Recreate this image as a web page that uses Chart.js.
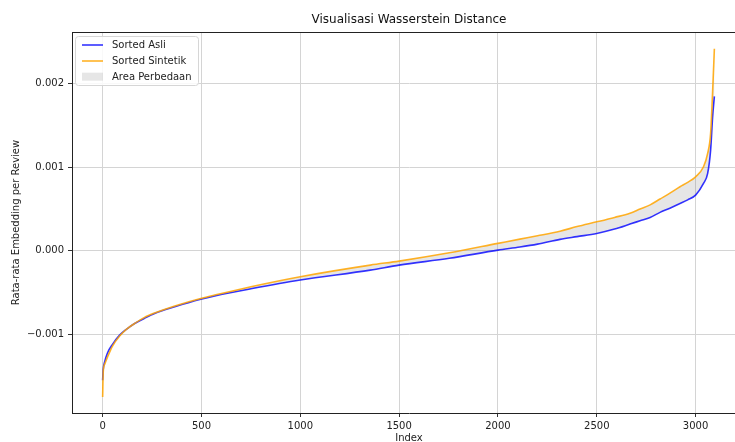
<!DOCTYPE html>
<html>
<head>
<meta charset="utf-8">
<script src="https://cdn.jsdelivr.net/npm/chart.js@4.4.1/dist/chart.umd.min.js"></script>
<style>
  html, body { margin: 0; padding: 0; background: #fff; overflow: hidden; }
  #wrap { width: 750px; height: 442px; position: relative; }
</style>
</head>
<body>
<div id="wrap"><canvas id="c" width="750" height="442"></canvas></div>
<script>
// ---- data ----
const sampleIndex = [0, 3, 10, 25, 50, 86, 120, 162, 210, 263, 365, 496, 567, 750, 1000, 1354, 1500, 1754, 2000, 2111, 2200, 2314, 2400, 2500, 2590, 2668, 2719, 2770, 2820, 2870, 2921, 2960, 3000, 3040, 3061, 3076, 3086, 3095];
const sortedAsli = [-0.00155, -0.00142, -0.00133, -0.00122, -0.00112, -0.00101, -0.00094, -0.00087, -0.00081, -0.00075, -0.00067, -0.00058, -0.00054, -0.000455, -0.00035, -0.000231, -0.000171, -0.00009, 0.000008, 0.000045, 0.00008, 0.000137, 0.00017, 0.000208, 0.00026, 0.00032, 0.00036, 0.0004, 0.00046, 0.00051, 0.000567, 0.00061, 0.000667, 0.000807, 0.000927, 0.001206, 0.0016, 0.00185];
const sortedSintetik = [-0.00175, -0.00145, -0.00136, -0.00127, -0.00114, -0.00102, -0.00094, -0.00087, -0.0008, -0.000745, -0.00066, -0.00057, -0.00053, -0.00043, -0.00031, -0.000171, -0.000123, -0.000024, 0.000089, 0.00014, 0.00018, 0.000235, 0.00029, 0.000347, 0.0004, 0.00045, 0.0005, 0.00055, 0.00062, 0.00069, 0.000767, 0.00082, 0.000886, 0.001006, 0.001166, 0.001406, 0.0019, 0.00242];
const xTickValues = [0, 500, 1000, 1500, 2000, 2500, 3000];
const yTickValues = [-0.001, 0, 0.001, 0.002];
const seriesLabels = ['Sorted Asli', 'Sorted Sintetik', 'Area Perbedaan'];
const chartTitle = 'Visualisasi Wasserstein Distance';
const xTitle = 'Index';
const yTitle = 'Rata-rata Embedding per Review';

const FONT = '"DejaVu Sans", Verdana, sans-serif';
const toXY = (vals) => vals.map((v, k) => ({ x: sampleIndex[k], y: v }));

const BLUE = 'rgba(0,0,255,0.8)';
const ORANGE = 'rgba(255,165,0,0.85)';
const FILL = 'rgba(128,128,128,0.2)';

const decorPlugin = {
  id: 'decor',
  afterDraw(chart) {
    const { ctx, chartArea: a } = chart;
    ctx.save();
    // top spine
    ctx.strokeStyle = '#222';
    ctx.lineWidth = 1;
    ctx.beginPath();
    ctx.moveTo(a.left, a.top + 0.5);
    ctx.lineTo(a.right, a.top + 0.5);
    ctx.stroke();
    // title
    ctx.fillStyle = '#111';
    ctx.font = '12px ' + FONT;
    ctx.textAlign = 'center';
    ctx.textBaseline = 'middle';
    ctx.fillText(chartTitle, (a.left + a.right) / 2, 20);
    // x title
    ctx.font = '10px ' + FONT;
    ctx.fillStyle = '#222';
    ctx.fillText(xTitle, (a.left + a.right) / 2, 438);
    // y title
    ctx.save();
    ctx.translate(16, (a.top + a.bottom) / 2);
    ctx.rotate(-Math.PI / 2);
    ctx.fillText(yTitle, 0, 0);
    ctx.restore();
    // legend
    const lx = 75, ly = 36, lw = 123, lh = 49, r = 3;
    ctx.fillStyle = 'rgba(255,255,255,0.85)';
    ctx.strokeStyle = '#d6d6d6';
    ctx.beginPath();
    ctx.roundRect(lx + 0.5, ly + 0.5, lw, lh, r);
    ctx.fill();
    ctx.stroke();
    const rows = [45, 61, 76.7];
    const ds = chart.data.datasets;
    ctx.textAlign = 'left';
    ctx.font = '10px ' + FONT;
    [0, 1].forEach((k) => {
      ctx.strokeStyle = ds[k].borderColor;
      ctx.lineWidth = 1.6;
      ctx.beginPath();
      ctx.moveTo(82, rows[k]);
      ctx.lineTo(103, rows[k]);
      ctx.stroke();
      ctx.fillStyle = '#222';
      ctx.fillText(ds[k].label, 112, rows[k] + 0.5);
    });
    ctx.fillStyle = ds[2].backgroundColor;
    ctx.fillRect(82, rows[2] - 4, 21, 8);
    ctx.fillStyle = '#222';
    ctx.fillText(ds[2].label, 112, rows[2] + 0.5);
    ctx.restore();
  }
};

new Chart(document.getElementById('c'), {
  type: 'line',
  data: {
    datasets: [
      {
        label: seriesLabels[0],
        data: toXY(sortedAsli),
        borderColor: BLUE,
        borderWidth: 1.6,
        pointRadius: 0,
        fill: false,
        cubicInterpolationMode: 'monotone',
        order: 2
      },
      {
        label: seriesLabels[1],
        data: toXY(sortedSintetik),
        borderColor: ORANGE,
        borderWidth: 1.6,
        pointRadius: 0,
        fill: false,
        cubicInterpolationMode: 'monotone',
        order: 1
      },
      {
        label: seriesLabels[2],
        data: toXY(sortedSintetik),
        borderColor: 'rgba(0,0,0,0)',
        borderWidth: 0,
        backgroundColor: FILL,
        pointRadius: 0,
        fill: 0,
        cubicInterpolationMode: 'monotone',
        order: 3
      }
    ]
  },
  options: {
    responsive: false,
    animation: false,
    events: [],
    layout: { padding: { top: 32, right: 4, left: 0, bottom: 0 } },
    plugins: {
      legend: { display: false },
      title: { display: false },
      tooltip: { enabled: false },
      filler: { propagate: false }
    },
    scales: {
      x: {
        type: 'linear',
        min: -155,
        max: 3255,
        afterFit: (s) => { s.height = 29; },
        afterBuildTicks: (s) => { s.ticks = xTickValues.map((v) => ({ value: v })); },
        grid: { color: '#d4d4d4', lineWidth: 1, drawTicks: true, tickLength: 4, tickColor: '#333' },
        border: { display: true, color: '#222', width: 1 },
        ticks: {
          padding: 3,
          maxRotation: 0,
          autoSkip: false,
          color: '#222',
          font: { family: FONT, size: 10 },
          callback: (v) => String(v)
        }
      },
      y: {
        type: 'linear',
        min: -0.001942,
        max: 0.00262,
        afterFit: (s) => { s.width = 72; },
        afterBuildTicks: (s) => { s.ticks = yTickValues.map((v) => ({ value: v })); },
        grid: { color: '#d4d4d4', lineWidth: 1, drawTicks: true, tickLength: 4, tickColor: '#333' },
        border: { display: true, color: '#222', width: 1 },
        ticks: {
          padding: 4,
          autoSkip: false,
          color: '#222',
          font: { family: FONT, size: 10 },
          callback: (v) => {
            const s = Math.abs(v).toFixed(3);
            return v < -1e-9 ? '\u2212' + s : s;
          }
        }
      }
    }
  },
  plugins: [decorPlugin]
});
</script>
</body>
</html>
